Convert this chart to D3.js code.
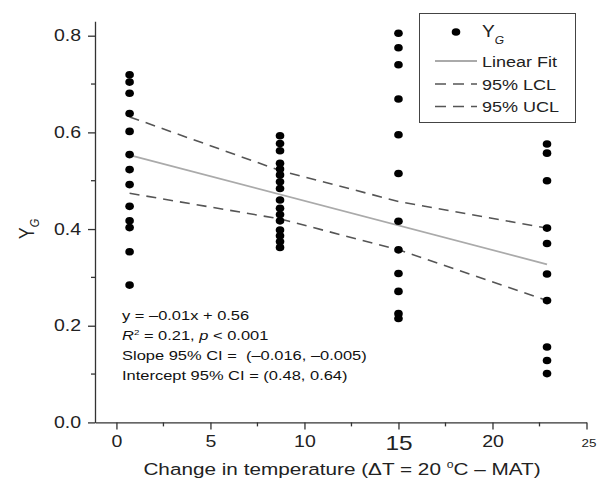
<!DOCTYPE html>
<html>
<head>
<meta charset="utf-8">
<script src="https://cdn.jsdelivr.net/npm/d3@7"></script>
<style>
  html, body { margin: 0; padding: 0; background: #fff; }
  svg { display: block; font-family: "Liberation Sans", Arial, sans-serif; }
</style>
</head>
<body>
<div id="chart"></div>
<script>
// column positions (delta T) and Y_G values
const columnX = [0.7, 8.7, 15.0, 22.9];
const col1 = [0.719, 0.704, 0.681, 0.639, 0.602, 0.554, 0.523, 0.492, 0.447, 0.417, 0.403, 0.353, 0.284];
const col2 = [0.593, 0.577, 0.562, 0.536, 0.524, 0.512, 0.498, 0.484, 0.460, 0.443, 0.430, 0.417, 0.398, 0.386, 0.374, 0.362];
const col3 = [0.805, 0.775, 0.740, 0.669, 0.595, 0.515, 0.416, 0.357, 0.308, 0.271, 0.225, 0.215];
const col4 = [0.576, 0.557, 0.500, 0.402, 0.370, 0.307, 0.252, 0.156, 0.128, 0.101];

// fit line and confidence limits
const fitX = [0.7, 22.9];
const fitY = [0.553, 0.327];
const lclY = [0.474, 0.421, 0.357, 0.252];
const uclY = [0.632, 0.521, 0.457, 0.402];

const xTicks = [0, 5, 10, 15, 20, 25];
const xMinor = [2.5, 7.5, 12.5, 17.5, 22.5];
const yTicks = [0, 0.2, 0.4, 0.6, 0.8];
const yMinor = [0.1, 0.3, 0.5, 0.7];

const statLines = [
  "y = \u20130.01x + 0.56",
  "R2",
  "Slope 95% CI =  (\u20130.016, \u20130.005)",
  "Intercept 95% CI = (0.48, 0.64)"
];

const width = 603, height = 488;
const axisColor = "#333";
const sx = 1.22; // the original figure is stretched sideways

// widen a text element around its own x anchor
function stretch(sel, k) {
  sel.each(function () {
    const el = d3.select(this);
    const ax = +el.attr("x") || 0;
    const prev = el.attr("transform") || "";
    el.attr("transform", `${prev} translate(${ax},0) scale(${k},1) translate(${-ax},0)`);
  });
}

const svg = d3.select("#chart").append("svg")
  .attr("width", width).attr("height", height);
svg.append("rect").attr("width", width).attr("height", height).attr("fill", "#fff");

const x = d3.scaleLinear().domain([-1.14, 25]).range([95, 586.5]);
const y = d3.scaleLinear().domain([0, 0.83]).range([422.4, 21.2]);

// axes
const xAxis = svg.append("g").attr("transform", `translate(0,${y(0)})`)
  .call(d3.axisBottom(x).tickValues(xTicks).tickSize(7).tickSizeOuter(0).tickFormat(d3.format("d")));
xAxis.selectAll(".tick text")
  .attr("y", 13)
  .style("font-size", d => d === 15 ? "20px" : d === 25 ? "11px" : "16px")
  .attr("dy", d => d === 15 ? "0.72em" : d === 25 ? "1.1em" : "0.75em")
  .attr("fill", "#222");
xAxis.selectAll(".tick").filter(d => d === 25).select("text").attr("x", 2);
stretch(xAxis.selectAll(".tick text"), sx);
xAxis.selectAll("line.minor").data(xMinor).join("line")
  .attr("class", "minor")
  .attr("x1", d => x(d)).attr("x2", d => x(d))
  .attr("y1", 0).attr("y2", 4)
  .attr("stroke", axisColor);

const yAxis = svg.append("g").attr("transform", `translate(${x.range()[0]},0)`)
  .call(d3.axisLeft(y).tickValues(yTicks).tickSize(7).tickSizeOuter(0).tickFormat(d3.format(".1f")));
yAxis.selectAll(".tick text")
  .attr("x", -14)
  .style("font-size", "16px")
  .attr("fill", "#222");
stretch(yAxis.selectAll(".tick text"), sx);
yAxis.selectAll("line.minor").data(yMinor).join("line")
  .attr("class", "minor")
  .attr("x1", 0).attr("x2", -4)
  .attr("y1", d => y(d)).attr("y2", d => y(d))
  .attr("stroke", axisColor);

svg.selectAll(".domain, .tick line").attr("stroke", axisColor).attr("stroke-width", 1.3);
svg.selectAll("line.minor").attr("stroke-width", 1.3);

// axis titles
const yTitle = svg.append("text")
  .attr("transform", `translate(34,${y(0.4)}) rotate(-90) scale(1,${sx})`)
  .attr("text-anchor", "middle")
  .style("font-size", "18px")
  .attr("fill", "#222");
yTitle.append("tspan").text("Y");
yTitle.append("tspan").attr("dy", 4).style("font-size", "11px").style("font-style", "italic").text("G");

const xTitle = svg.append("text")
  .attr("x", 342).attr("y", 475)
  .attr("text-anchor", "middle")
  .style("font-size", "17px")
  .attr("fill", "#222");
xTitle.append("tspan").text("Change in temperature (\u0394T = 20 ");
xTitle.append("tspan").attr("dy", -7).style("font-size", "10px").text("o");
xTitle.append("tspan").attr("dy", 7).text("C \u2013 MAT)");
stretch(xTitle, sx);

// confidence limits and fit
const line = d3.line().x(d => x(d[0])).y(d => y(d[1]));
svg.append("path")
  .datum(columnX.map((v, i) => [v, lclY[i]]))
  .attr("d", line).attr("fill", "none")
  .attr("stroke", "#555").attr("stroke-width", 1.6).attr("stroke-dasharray", "10,7");
svg.append("path")
  .datum(columnX.map((v, i) => [v, uclY[i]]))
  .attr("d", line).attr("fill", "none")
  .attr("stroke", "#555").attr("stroke-width", 1.6).attr("stroke-dasharray", "10,7");
svg.append("path")
  .datum(fitX.map((v, i) => [v, fitY[i]]))
  .attr("d", line).attr("fill", "none")
  .attr("stroke", "#aaa").attr("stroke-width", 1.8);

// points
const points = [col1, col2, col3, col4].flatMap((col, i) => col.map(v => ({ x: columnX[i], y: v })));
svg.append("g").selectAll("ellipse").data(points).join("ellipse")
  .attr("cx", d => x(d.x)).attr("cy", d => y(d.y))
  .attr("rx", 4.3).attr("ry", 3.8).attr("fill", "#000");

// stats text
const stats = svg.append("g").style("font-size", "13.5px").attr("fill", "#111");
statLines.forEach((s, i) => {
  const t = stats.append("text").attr("x", 122).attr("y", 320 + i * 20)
    .style("white-space", "pre");
  if (s === "R2") {
    t.append("tspan").style("font-style", "italic").text("R");
    t.append("tspan").attr("dy", -5).style("font-size", "8px").text("2");
    t.append("tspan").attr("dy", 5).text(" = 0.21, ");
    t.append("tspan").style("font-style", "italic").text("p");
    t.append("tspan").text(" < 0.001");
  } else {
    t.text(s);
  }
  stretch(t, sx);
});

// legend
const legend = svg.append("g");
legend.append("rect")
  .attr("x", 419.5).attr("y", 13.5).attr("width", 156).attr("height", 109)
  .attr("fill", "#fff").attr("stroke", "#444").attr("stroke-width", 1);
const legendItems = [
  { label: "Y", kind: "dot", y: 37 },
  { label: "Linear Fit", kind: "solid", y: 67 },
  { label: "95% LCL", kind: "dash", y: 90 },
  { label: "95% UCL", kind: "dash", y: 112.5 }
];
legendItems.forEach(it => {
  const g = legend.append("g");
  if (it.kind === "dot") {
    g.append("ellipse").attr("cx", 456).attr("cy", it.y - 5).attr("rx", 4.3).attr("ry", 3.8).attr("fill", "#000");
    const t = g.append("text").attr("x", 482).attr("y", it.y).style("font-size", "16px").attr("fill", "#222");
    t.append("tspan").text("Y");
    t.append("tspan").attr("dy", 7).style("font-size", "10px").style("font-style", "italic").text("G");
    stretch(t, 1.2);
  } else {
    g.append("line")
      .attr("x1", 435).attr("x2", 477).attr("y1", it.y - 6).attr("y2", it.y - 6)
      .attr("stroke", it.kind === "solid" ? "#aaa" : "#555")
      .attr("stroke-width", it.kind === "solid" ? 1.8 : 1.6)
      .attr("stroke-dasharray", it.kind === "solid" ? null : "11,7");
    const t = g.append("text").attr("x", 482).attr("y", it.y).style("font-size", "15px").attr("fill", "#222").text(it.label);
    stretch(t, 1.2);
  }
});
</script>
</body>
</html>
